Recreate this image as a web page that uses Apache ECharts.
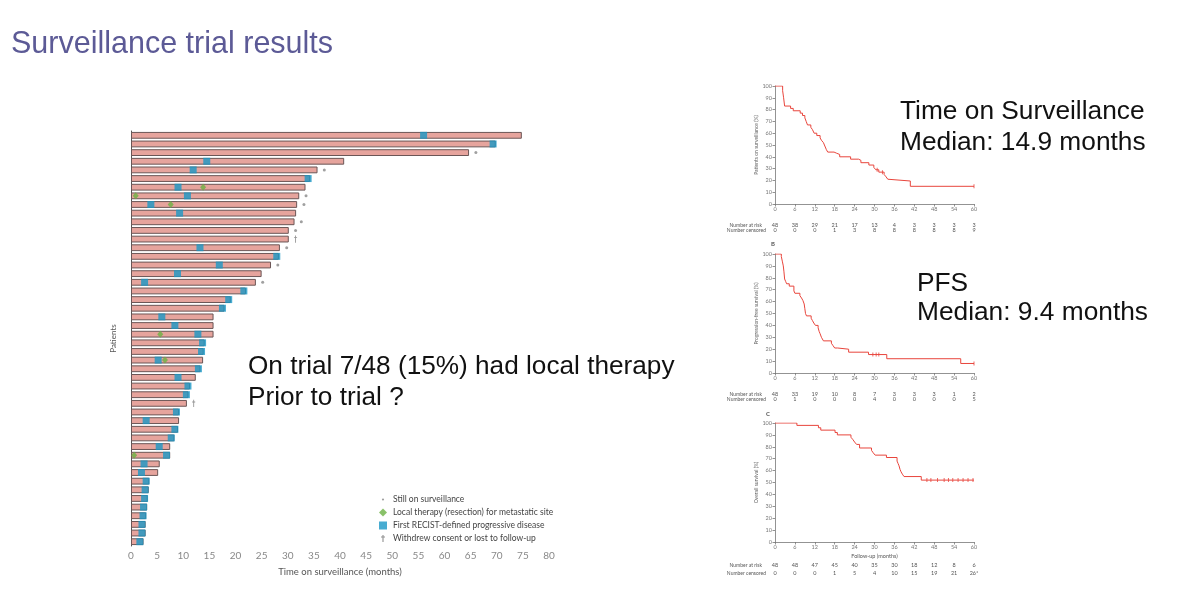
<!DOCTYPE html>
<html>
<head>
<meta charset="utf-8">
<script src="https://cdn.jsdelivr.net/npm/echarts@6/dist/echarts.min.js"></script>
<style>
  html, body { margin: 0; padding: 0; background: #fff; }
  #main { width: 1200px; height: 589px; }
</style>
</head>
<body>
<div id="main"></div>
<script>
// swimmer plot: one bar per patient, top to bottom (months)
var durations = [74.8, 69.8, 64.7, 40.8, 35.7, 34.3, 33.4, 32.2, 31.8, 31.6, 31.3, 30.2,
  30.2, 28.5, 28.3, 26.8, 25.0, 23.9, 22.0, 19.1, 17.9, 15.8, 15.8, 15.8,
  14.1, 13.9, 13.8, 13.3, 12.4, 11.3, 11.0, 10.7, 9.2, 9.2, 9.0, 8.3,
  7.5, 7.5, 5.5, 5.2, 3.5, 3.4, 3.2, 3.1, 2.9, 2.8, 2.8, 2.4];
// [month, patient row]
var progression = [[56.0, 0], [69.3, 1], [14.5, 3], [11.9, 4], [33.9, 5], [9.0, 6], [10.8, 7],
  [3.8, 8], [9.3, 9], [13.2, 13], [27.9, 14], [16.9, 15], [8.9, 16], [2.6, 17], [21.6, 18],
  [18.7, 19], [17.5, 20], [5.9, 21], [8.4, 22], [12.8, 23], [13.7, 24], [13.5, 25], [5.2, 26],
  [12.9, 27], [9.0, 28], [10.9, 29], [10.6, 30], [8.7, 32], [2.9, 33], [8.4, 34], [7.7, 35],
  [5.4, 36], [6.8, 37], [2.5, 38], [2.0, 39], [2.9, 40], [2.7, 41], [2.6, 42], [2.4, 43],
  [2.3, 44], [2.1, 45], [2.1, 46], [1.7, 47]];
var localTherapy = [[13.8, 6], [0.9, 7], [7.6, 8], [5.6, 23], [6.5, 26], [0.6, 37]];
var stillOnRows = [2, 4, 7, 8, 10, 11, 13, 15, 17];
var withdrewRows = [12, 31];

// Kaplan-Meier curves [month, %]
var kmTime = [[0, 100], [2.3, 96], [2.6, 90], [2.9, 83], [4.7, 81], [5.5, 79], [7.6, 77], [8.3, 75],
  [9.0, 73], [9.4, 70], [9.8, 67], [10.8, 65], [11.3, 63], [11.8, 60], [12.6, 58], [13.6, 56],
  [14.0, 54], [14.6, 52], [14.9, 50], [15.5, 46], [15.9, 44], [17.8, 43], [18.6, 42], [19.5, 40],
  [22.8, 38], [25.2, 37], [25.9, 35], [28.3, 33], [29.8, 31], [30.4, 29], [31.3, 27], [32.9, 25],
  [33.5, 23], [34.0, 21], [34.6, 19.5], [40.8, 15], [60, 15]];
var kmPfs = [[0, 100], [1.9, 98], [2.2, 94], [2.5, 90], [2.7, 85], [2.9, 79], [3.2, 77], [3.5, 75],
  [4.3, 73], [5.7, 69], [6.0, 67], [7.5, 65], [8.0, 63], [8.4, 61], [8.8, 58], [9.0, 54],
  [9.2, 50], [9.5, 48], [10.9, 46], [11.3, 44], [11.7, 42], [12.2, 40], [13.0, 38], [13.3, 35],
  [13.6, 33], [14.0, 30], [14.6, 27], [17.0, 25], [17.5, 23], [18.0, 21], [18.9, 20],
  [22.2, 17.5], [28.2, 15.5], [33.7, 12], [56.0, 8], [60, 8]];
var kmOs = [[0, 100], [6.6, 98], [13.1, 96], [13.8, 94], [18.1, 92], [18.8, 90], [22.9, 88],
  [23.5, 86], [24.0, 84], [24.6, 82], [25.5, 79], [29.1, 77], [29.6, 75], [30.2, 73], [33.6, 71],
  [36.8, 68], [37.1, 66], [37.4, 64], [37.7, 61], [38.0, 59], [38.4, 57], [38.9, 55], [44.1, 52],
  [60, 52]];
var censTime = [[30.8, 29], [32.4, 27], [60, 15]];
var censPfs = [[29.5, 15.5], [30.5, 15.5], [31.3, 15.5], [60, 8]];
var censOs = [[45.8, 52], [47, 52], [49, 52], [51, 52], [52.3, 52], [53.6, 52], [55.2, 52],
  [56.7, 52], [58.2, 52], [59.7, 52]];

// number at risk tables (every 6 months)
var riskTime = ['48', '38', '29', '21', '17', '13', '4', '3', '3', '3', '3'];
var censoredTime = ['0', '0', '0', '1', '3', '8', '8', '8', '8', '8', '9'];
var riskPfs = ['48', '33', '19', '10', '8', '7', '3', '3', '3', '1', '2'];
var censoredPfs = ['0', '1', '0', '0', '0', '4', '0', '0', '0', '0', '5'];
var riskOs = ['48', '48', '47', '45', '40', '35', '30', '18', '12', '8', '6'];
var censoredOs = ['0', '0', '0', '1', '5', '4', '10', '15', '19', '21', '26*'];

var patients = durations.map(function (d, i) { return 'Patient ' + (i + 1); });

var chart = echarts.init(document.getElementById('main'));

var slideFont = 'Liberation Sans';
var smallFont = 'Lato';
var red = '#e8453c';

function kmX(idx, risk, censored, gap, rowH) {
  return {
    type: 'value', gridIndex: idx, min: 0, max: 60, interval: 6,
    axisLine: { lineStyle: { color: '#777', width: 0.8 } },
    axisTick: { length: 2.5, lineStyle: { color: '#777', width: 0.8 } },
    splitLine: { show: false },
    axisLabel: {
      margin: 2,
      formatter: function (v) {
        var i = Math.round(v / 6);
        return '{t|' + v + '}\n{g| }\n{r|' + risk[i] + '}\n{r|' + censored[i] + '}';
      },
      rich: {
        t: { fontSize: 5.5, lineHeight: 6, color: '#777', fontFamily: smallFont },
        g: { fontSize: 5, lineHeight: gap },
        r: { fontSize: 5.5, lineHeight: rowH, color: '#555', fontFamily: smallFont }
      }
    }
  };
}

function kmY(idx, name) {
  return {
    type: 'value', gridIndex: idx, min: 0, max: 100, interval: 10,
    name: name, nameLocation: 'middle', nameGap: 16,
    nameTextStyle: { fontSize: 5, color: '#666', fontFamily: smallFont },
    axisLine: { show: true, lineStyle: { color: '#777', width: 0.8 } },
    axisTick: { show: true, length: 2.5, lineStyle: { color: '#777', width: 0.8 } },
    splitLine: { show: false },
    axisLabel: { fontSize: 5.5, color: '#777', margin: 3, fontFamily: smallFont }
  };
}

function kmLine(idx, data) {
  return {
    type: 'line', xAxisIndex: idx, yAxisIndex: idx, data: data, step: 'end',
    showSymbol: false, silent: true,
    lineStyle: { color: red, width: 1 }, itemStyle: { color: red }
  };
}

function kmCens(idx, data) {
  return {
    type: 'scatter', xAxisIndex: idx, yAxisIndex: idx, data: data,
    symbol: 'rect', symbolSize: [1, 4], silent: true,
    itemStyle: { color: red }
  };
}

// tiny right-aligned / centred annotation text of the KM panels
var tinyText = function (x, y, txt, size, align, weight) {
  return { type: 'text', x: x, y: y,
    style: { text: txt, fontSize: size, fontFamily: smallFont, fill: '#555',
      align: align || 'right', verticalAlign: 'middle', fontWeight: weight || 'normal' } };
};
var bigText = function (x, y, txt, size, color) {
  return { type: 'text', left: x, top: y,
    style: { text: txt, fontSize: size, fontFamily: slideFont, fill: color || '#111' } };
};

var daggerPath = 'path://M0 0M10 10M4.3 0.5H5.7V9.5H4.3ZM2.5 2.6H7.5V3.8H2.5Z';
var dotPath = 'path://M0 0M10 10M5 3.6A1.4 1.4 0 1 1 5 6.4A1.4 1.4 0 1 1 5 3.6Z';

var option = {
  backgroundColor: '#fff',
  animation: false,
  textStyle: { fontFamily: smallFont },
  grid: [
    { left: 131, top: 131, width: 418, height: 415 },
    { left: 775, top: 86, width: 199, height: 118 },
    { left: 775, top: 254, width: 199, height: 119 },
    { left: 775, top: 423, width: 199, height: 119 }
  ],
  xAxis: [
    {
      type: 'value', gridIndex: 0, min: 0, max: 80, interval: 5,
      name: 'Time on surveillance (months)', nameLocation: 'middle', nameGap: 21,
      nameTextStyle: { fontSize: 9.5, color: '#555', fontFamily: smallFont },
      axisLine: { lineStyle: { color: '#555', width: 1 } },
      axisTick: { length: 4, lineStyle: { color: '#555' } },
      axisLabel: { fontSize: 10, color: '#888', margin: 5, fontFamily: smallFont },
      splitLine: { show: false }
    },
    kmX(1, riskTime, censoredTime, 10.3, 5.4),
    kmX(2, riskPfs, censoredPfs, 10.1, 5.3),
    kmX(3, riskOs, censoredOs, 11.1, 8)
  ],
  yAxis: [
    {
      type: 'category', gridIndex: 0, data: patients, inverse: true,
      name: 'Patients', nameLocation: 'middle', nameGap: 14, nameRotate: 90,
      nameTextStyle: { fontSize: 8, color: '#555', fontFamily: smallFont },
      axisLine: { lineStyle: { color: '#555', width: 1 } },
      axisTick: { length: 5, lineStyle: { color: '#555' } },
      axisLabel: { show: false }
    },
    kmY(1, 'Patients on surveillance (%)'),
    kmY(2, 'Progression-free survival (%)'),
    kmY(3, 'Overall survival (%)')
  ],
  legend: {
    left: 374, top: 490, orient: 'vertical', itemGap: 4,
    itemWidth: 8, itemHeight: 8, selectedMode: false,
    textStyle: { fontSize: 8.5, color: '#444', fontFamily: smallFont, padding: [0, 0, 0, 1] },
    data: [
      { name: 'Still on surveillance', icon: dotPath },
      { name: 'Local therapy (resection) for metastatic site', icon: 'diamond' },
      { name: 'First RECIST-defined progressive disease', icon: 'rect' },
      { name: 'Withdrew consent or lost to follow-up', icon: daggerPath }
    ]
  },
  series: [
    {
      name: 'Time on surveillance', type: 'bar', xAxisIndex: 0, yAxisIndex: 0,
      data: durations, barWidth: 6.8, silent: true,
      itemStyle: { color: '#e6a49d', borderColor: '#6b5656', borderWidth: 1 }
    },
    {
      name: 'First RECIST-defined progressive disease', type: 'scatter', xAxisIndex: 0, yAxisIndex: 0,
      data: progression, symbol: 'rect', symbolSize: [7, 7], silent: true,
      itemStyle: { color: '#1a97c6' }
    },
    {
      name: 'Local therapy (resection) for metastatic site', type: 'scatter', xAxisIndex: 0, yAxisIndex: 0,
      data: localTherapy, symbol: 'diamond', symbolSize: [6, 7], silent: true,
      itemStyle: { color: '#6bb144' }
    },
    {
      name: 'Still on surveillance', type: 'scatter', xAxisIndex: 0, yAxisIndex: 0,
      data: stillOnRows.map(function (r) { return [durations[r] + 1.3, r]; }),
      symbol: 'circle', symbolSize: 3, silent: true,
      itemStyle: { color: '#888' }
    },
    {
      name: 'Withdrew consent or lost to follow-up', type: 'scatter', xAxisIndex: 0, yAxisIndex: 0,
      data: withdrewRows.map(function (r) { return [durations[r] + 1.3, r]; }),
      symbol: daggerPath, symbolSize: [6, 8], silent: true,
      itemStyle: { color: '#777' }
    },
    kmLine(1, kmTime), kmCens(1, censTime),
    kmLine(2, kmPfs), kmCens(2, censPfs),
    kmLine(3, kmOs), kmCens(3, censOs)
  ],
  graphic: [
    bigText(11, 29, 'Surveillance trial results', 30.5, '#5c5a96'),
    bigText(248, 354, 'On trial 7/48 (15%) had local therapy', 26.2),
    bigText(248, 385, 'Prior to trial ?', 26.2),
    bigText(900, 99, 'Time on Surveillance', 26.3),
    bigText(900, 130, 'Median: 14.9 months', 26.3),
    bigText(917, 271, 'PFS', 26.3),
    bigText(917, 300, 'Median: 9.4 months', 26.3),
    tinyText(762, 225.3, 'Number at risk', 5),
    tinyText(766, 230.7, 'Number censored', 5),
    tinyText(762, 394, 'Number at risk', 5),
    tinyText(766, 399.3, 'Number censored', 5),
    tinyText(762, 565.3, 'Number at risk', 5),
    tinyText(766, 573.3, 'Number censored', 5),
    tinyText(874.5, 556, 'Follow-up (months)', 5.5, 'center'),
    tinyText(773, 244, 'B', 6, 'center', 'bold'),
    tinyText(768, 414, 'C', 6, 'center', 'bold')
  ]
};

chart.setOption(option);
</script>
</body>
</html>
